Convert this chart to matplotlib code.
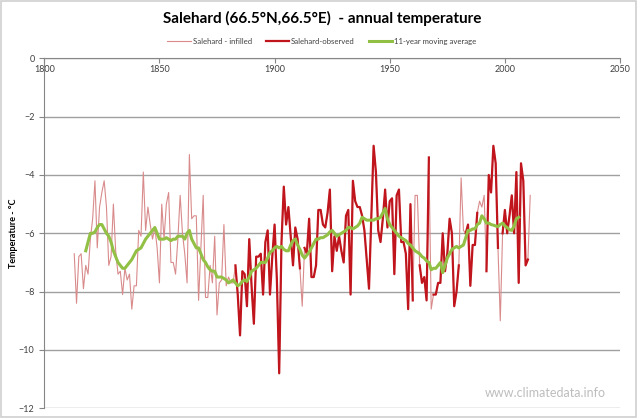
import numpy as np
import matplotlib
matplotlib.use("Agg")
import matplotlib.pyplot as plt
from matplotlib.patches import Rectangle

plt.rcParams['font.family'] = ['Lato', 'DejaVu Sans']

# annual temperature, infilled series, 1813..2011
start_year = 1813
infilled = [
    -6.7, -8.4, -6.8, -6.7, -7.9, -7.1, -7.4, -6.2, -5.5, -4.2,   # 1813-1822
    -6.5, -5.1, -4.6, -4.2, -5.1, -7.1, -6.8, -5.0, -6.6, -7.4,   # 1823-1832
    -7.3, -8.1, -7.2, -7.6, -7.4, -8.6, -7.8, -7.8, -5.9, -6.1,   # 1833-1842
    -3.9, -5.9, -5.1, -5.7, -6.2, -5.8, -6.5, -7.7, -5.0, -6.2,   # 1843-1852
    -5.0, -4.6, -7.0, -7.0, -7.4, -6.2, -4.7, -6.0, -6.7, -7.7,   # 1853-1862
    -3.3, -5.5, -5.4, -5.4, -8.3, -6.5, -4.7, -8.2, -8.2, -7.1,   # 1863-1872
    -7.7, -6.1, -8.8, -7.7, -7.6, -5.7, -7.8, -7.5, -7.7, -7.7,   # 1873-1882
    -7.1, -8.1, -9.5, -7.3, -7.4, -8.5, -6.2, -7.8, -9.1, -6.8,   # 1883-1892
    -6.8, -6.7, -8.1, -6.3, -5.9, -8.1, -6.8, -5.7, -7.6, -10.8,  # 1893-1902
    -6.3, -4.4, -5.7, -5.1, -6.1, -7.1, -5.8, -6.2, -7.2, -8.5,   # 1903-1912
    -6.5, -6.7, -5.5, -7.5, -7.5, -7.1, -5.2, -5.2, -5.7, -5.8,   # 1913-1922
    -5.3, -4.5, -7.3, -6.1, -6.6, -6.1, -6.6, -7.0, -5.4, -5.2,   # 1923-1932
    -8.1, -4.2, -4.9, -5.1, -5.1, -5.4, -5.9, -6.9, -7.9, -5.4,   # 1933-1942
    -3.0, -3.9, -5.9, -6.3, -5.5, -4.5, -5.8, -4.9, -4.8, -7.4,   # 1943-1952
    -4.7, -4.5, -6.3, -6.3, -6.7, -8.6, -5.0, -8.3, -4.7, -4.7,   # 1953-1962
    -7.1, -7.7, -7.5, -8.3, -3.4, -8.6, -8.1, -8.1, -7.7, -7.7,   # 1963-1972
    -6.0, -7.3, -6.7, -5.5, -6.0, -8.5, -8.0, -7.1, -4.1, -5.9,   # 1973-1982
    -6.0, -5.7, -7.8, -6.4, -6.4, -5.3, -4.9, -5.1, -4.7, -7.3,   # 1983-1992
    -4.0, -4.6, -3.0, -3.6, -6.5, -9.0, -6.0, -5.2, -6.0, -5.4,   # 1993-2002
    -4.7, -6.0, -3.9, -7.7, -3.6, -4.2, -7.1, -6.9, -4.7,         # 2003-2011
]

# observed record begins in 1883; these years have no observation
obs_first_year = 1883
obs_missing = [1912, 1961, 1962, 1968, 1981, 1982, 1989, 1990, 1991, 1998, 2011]

# 11-year moving average, 1818..2006
ma_start = 1818
moving_avg = [
    -6.6, -6.3, -6.0, -6.0, -5.95, -5.8, -5.7, -5.7, -5.85, -6.0,        # 1818-1827
    -6.1, -6.3, -6.6, -6.8, -7.0, -7.1, -7.2, -7.2, -7.1, -7.0,          # 1828-1837
    -6.9, -6.75, -6.6, -6.55, -6.5, -6.35, -6.2, -6.1, -6.0, -5.9,       # 1838-1847
    -5.8, -6.0, -6.2, -6.2, -6.2, -6.15, -6.2, -6.25, -6.2, -6.2,        # 1848-1857
    -6.1, -6.1, -6.1, -6.2, -6.0, -5.9, -6.2, -6.35, -6.5, -6.5,         # 1858-1867
    -6.7, -6.9, -7.0, -7.15, -7.25, -7.3, -7.3, -7.5, -7.5, -7.5,        # 1868-1877
    -7.55, -7.6, -7.7, -7.65, -7.6, -7.7, -7.8, -7.75, -7.65, -7.6,      # 1878-1887
    -7.65, -7.5, -7.3, -7.25, -7.2, -7.1, -7.0, -7.0, -7.0, -6.85,       # 1888-1897
    -6.65, -6.6, -6.5, -6.45, -6.5, -6.45, -6.55, -6.6, -6.6, -6.4,      # 1898-1907
    -6.25, -6.2, -6.4, -6.55, -6.75, -6.85, -6.75, -6.65, -6.5, -6.35,   # 1908-1917
    -6.2, -6.2, -6.15, -6.15, -6.1, -6.05, -5.95, -5.9, -6.0, -6.1,      # 1918-1927
    -6.05, -6.0, -5.95, -5.9, -5.8, -5.8, -5.85, -5.8, -5.75, -5.65,     # 1928-1937
    -5.45, -5.5, -5.55, -5.55, -5.55, -5.55, -5.5, -5.5, -5.45, -5.3,    # 1938-1947
    -5.15, -5.5, -5.7, -5.8, -5.9, -6.0, -6.1, -6.15, -6.2, -6.25,       # 1948-1957
    -6.35, -6.4, -6.5, -6.6, -6.65, -6.7, -6.8, -6.85, -6.95, -7.0,      # 1958-1967
    -7.25, -7.2, -7.2, -7.1, -7.0, -7.35, -7.1, -6.85, -6.7, -6.55,      # 1968-1977
    -6.5, -6.45, -6.5, -6.45, -6.4, -6.15, -5.9, -5.9, -5.85, -5.85,     # 1978-1987
    -5.7, -5.65, -5.4, -5.5, -5.65, -5.65, -5.7, -5.72, -5.75, -5.77,    # 1988-1997
    -5.7, -5.65, -5.75, -5.8, -5.88, -5.9, -5.75, -5.5, -5.45,           # 1998-2006
]

years = np.arange(start_year, start_year + len(infilled))
infilled = np.array(infilled)
observed = infilled.copy()
observed[years < obs_first_year] = np.nan
observed[np.isin(years, obs_missing)] = np.nan
ma_years = np.arange(ma_start, ma_start + len(moving_avg))

fig = plt.figure(figsize=(6.4, 4.19), dpi=100)
fig.patches.append(Rectangle((0.002, 0.004), 0.992, 0.993, transform=fig.transFigure,
                             fill=False, edgecolor='#d0d0d0', linewidth=1.2))

ax = fig.add_axes([0.0692, 0.0255, 0.8996, 0.8354])
ax.plot(years, infilled, color='#d98b8c', lw=0.8, label='Salehard - infilled', zorder=3)
ax.plot(years, observed, color='#c0151c', lw=1.6, label='Salehard-observed', zorder=4)
ax.plot(ma_years, moving_avg, color='#92c045', lw=2.2, label='11-year moving average', zorder=5)

ax.set_xlim(1800, 2050)
ax.set_ylim(-12, 0)
ax.set_xticks(range(1800, 2051, 50))
ax.set_yticks(range(-12, 1, 2))
ax.yaxis.grid(True, color='#a0a0a0', lw=1.0)
ax.set_axisbelow(True)

for s in ['top', 'right']:
    ax.spines[s].set_visible(False)
ax.spines['bottom'].set_position(('data', 0))
ax.spines['bottom'].set_color('#868686')
ax.spines['left'].set_color('#868686')
ax.tick_params(axis='both', colors='#868686', labelcolor='#404040', labelsize=6.5,
               length=3.5, width=0.8)
ax.tick_params(axis='x', pad=1.5)

ax.set_ylabel('Temperature - °C', fontsize=6.5, fontweight='bold')
ax.yaxis.set_label_coords(-0.046, 0.5)

fig.text(0.503, 0.957, 'Salehard (66.5°N,66.5°E)  - annual temperature',
         ha='center', va='center', fontsize=11, fontweight='bold', color='#000000')

fig.legend(loc='center', bbox_to_anchor=(0.503, 0.902), ncol=3, frameon=False,
           fontsize=5.6, handlelength=3.0, columnspacing=1.8, handletextpad=0.25,
           labelcolor='#404040')

fig.text(0.852, 0.062, 'www.climatedata.info', ha='center', va='center',
         fontsize=9, color='#bdbdbd')

fig.savefig('out.png', dpi=100)
